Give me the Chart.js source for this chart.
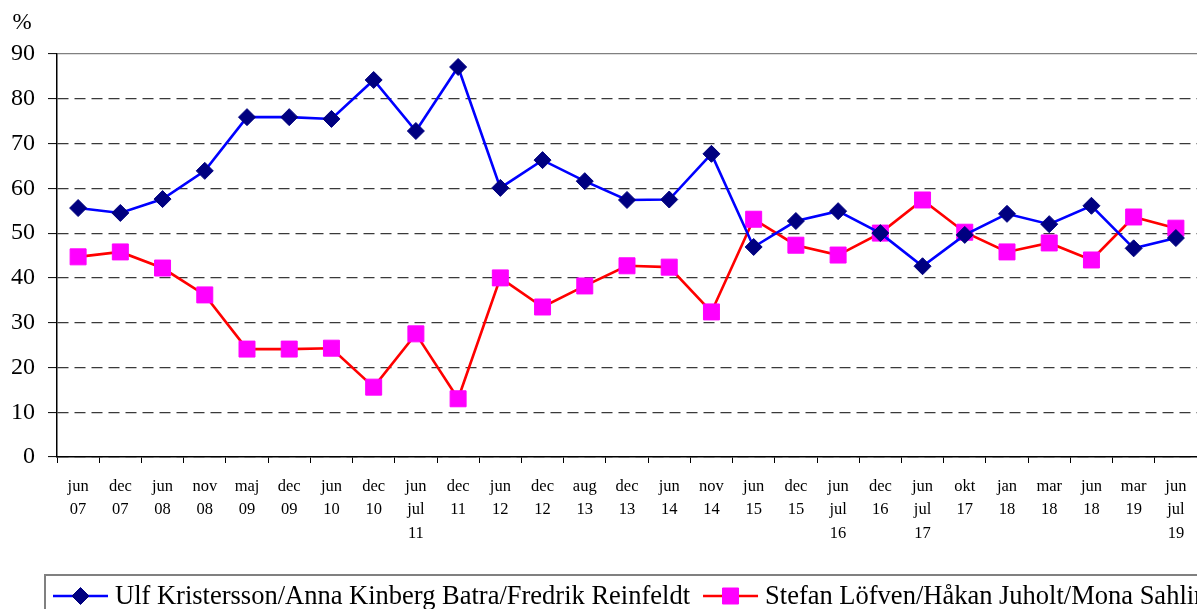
<!DOCTYPE html>
<html>
<head>
<meta charset="utf-8">
<script src="https://cdn.jsdelivr.net/npm/chart.js@4/dist/chart.umd.min.js"></script>
<style>
  html, body { margin: 0; padding: 0; background: #fff; overflow: hidden; }
  #c { display: block; }
</style>
</head>
<body>
<canvas id="c" width="1197" height="609"></canvas>
<script>
const categories = [
  ['jun','07'],['dec','07'],['jun','08'],['nov','08'],['maj','09'],['dec','09'],
  ['jun','10'],['dec','10'],['jun','jul','11'],['dec','11'],['jun','12'],['dec','12'],
  ['aug','13'],['dec','13'],['jun','14'],['nov','14'],['jun','15'],['dec','15'],
  ['jun','jul','16'],['dec','16'],['jun','jul','17'],['okt','17'],['jan','18'],
  ['mar','18'],['jun','18'],['mar','19'],['jun','jul','19']
];
const seriesNames = [
  'Ulf Kristersson/Anna Kinberg Batra/Fredrik Reinfeldt',
  'Stefan Löfven/Håkan Juholt/Mona Sahlin'
];
const rightBloc = [55.6, 54.5, 57.6, 63.9, 75.9, 75.9, 75.5, 84.2, 72.8, 87.1, 60.1, 66.3, 61.6, 57.4, 57.5, 67.7, 46.9, 52.7, 54.9, 50.0, 42.6, 49.6, 54.3, 52.0, 56.1, 46.6, 48.9];
const leftBloc  = [44.7, 45.8, 42.2, 36.2, 24.1, 24.1, 24.3, 15.6, 27.5, 13.0, 40.0, 33.5, 38.2, 42.7, 42.4, 32.4, 53.1, 47.3, 45.1, 50.0, 57.4, 50.2, 45.8, 47.8, 44.0, 53.6, 51.1];
const yTicks = [0, 10, 20, 30, 40, 50, 60, 70, 80, 90];
const unitLabel = '%';

const SERIF = '"Liberation Serif", "Times New Roman", serif';

function drawMarker(ctx, style, x, y, fill, stroke) {
  ctx.save();
  ctx.fillStyle = fill;
  ctx.strokeStyle = stroke;
  ctx.lineWidth = 1;
  ctx.beginPath();
  if (style === 'rectRot') {
    const r = 8.5;
    ctx.moveTo(x - r, y); ctx.lineTo(x, y - r); ctx.lineTo(x + r, y); ctx.lineTo(x, y + r);
  } else {
    const h = 8;
    ctx.rect(x - h, y - h, 2 * h, 2 * h);
  }
  ctx.closePath();
  ctx.fill();
  ctx.stroke();
  ctx.restore();
}

const extrasPlugin = {
  id: 'extras',
  afterDraw(chart) {
    const ctx = chart.ctx;
    ctx.save();
    ctx.fillStyle = '#000';
    ctx.font = '23px ' + SERIF;
    ctx.textAlign = 'center';
    ctx.textBaseline = 'middle';
    ctx.fillText(unitLabel, 22, 23);

    const left = 45, top = 575;
    ctx.strokeStyle = '#808080';
    ctx.lineWidth = 2;
    ctx.strokeRect(left, top, chart.width + 40, 80);
    ctx.font = '26.5px ' + SERIF;
    ctx.textAlign = 'left';
    ctx.textBaseline = 'middle';
    const y = top + 21;
    let x = left + 8;
    chart.data.datasets.forEach(ds => {
      ctx.strokeStyle = ds.borderColor;
      ctx.lineWidth = ds.borderWidth;
      ctx.beginPath();
      ctx.moveTo(x, y); ctx.lineTo(x + 55, y);
      ctx.stroke();
      drawMarker(ctx, ds.pointStyle, x + 27.5, y, ds.pointBackgroundColor, ds.pointBorderColor);
      const tx = x + 62;
      ctx.fillStyle = '#000';
      ctx.fillText(ds.label, tx, y + 1);
      x = tx + ctx.measureText(ds.label).width + 13;
    });
    ctx.restore();
  }
};

new Chart(document.getElementById('c'), {
  type: 'line',
  data: {
    labels: categories,
    datasets: [
      {
        label: seriesNames[0],
        data: rightBloc,
        borderColor: '#0000FF',
        borderWidth: 2.6,
        pointStyle: 'rectRot',
        pointRadius: 8.5,
        pointBackgroundColor: '#000080',
        pointBorderColor: '#000080',
        pointBorderWidth: 1,
        tension: 0
      },
      {
        label: seriesNames[1],
        data: leftBloc,
        borderColor: '#FF0000',
        borderWidth: 2.6,
        pointStyle: 'rect',
        pointRadius: 11.3,
        pointBackgroundColor: '#FF00FF',
        pointBorderColor: '#FF00FF',
        pointBorderWidth: 1,
        tension: 0
      }
    ]
  },
  options: {
    responsive: false,
    animation: false,
    devicePixelRatio: 1,
    layout: { autoPadding: false, padding: { top: 54, left: 0, right: 0, bottom: 0 } },
    plugins: {
      legend: { display: false },
      tooltip: { enabled: false },
      title: { display: false }
    },
    scales: {
      x: {
        type: 'category',
        offset: true,
        afterFit: s => { s.height = 152; s.paddingLeft = 0; s.paddingRight = 0; },
        grid: {
          offset: true,
          drawOnChartArea: false,
          drawTicks: true,
          tickLength: 6,
          tickColor: '#000',
          tickWidth: 1
        },
        border: { display: true, color: '#000', width: 1.5 },
        ticks: {
          color: '#000',
          font: { family: SERIF, size: 16.5, lineHeight: 1.42 },
          padding: 12,
          maxRotation: 0,
          autoSkip: false
        }
      },
      y: {
        min: 0,
        max: 90,
        afterFit: s => { s.width = 57; },
        afterBuildTicks: s => { s.ticks = yTicks.map(v => ({ value: v })); },
        grid: {
          color: ctx => (ctx.tick && ctx.tick.value === 90) ? '#808080' : '#3a3a3a',
          lineWidth: 1.2,
          drawTicks: true,
          tickLength: 9,
          tickColor: '#000',
          tickWidth: 1
        },
        border: {
          display: true,
          color: '#000',
          width: 1.5,
          dash: ctx => (ctx.tick && ctx.tick.value === 90) ? [] : [11, 6]
        },
        ticks: {
          color: '#000',
          font: { family: SERIF, size: 24 },
          padding: 13
        }
      }
    }
  },
  plugins: [extrasPlugin]
});
</script>
</body>
</html>
